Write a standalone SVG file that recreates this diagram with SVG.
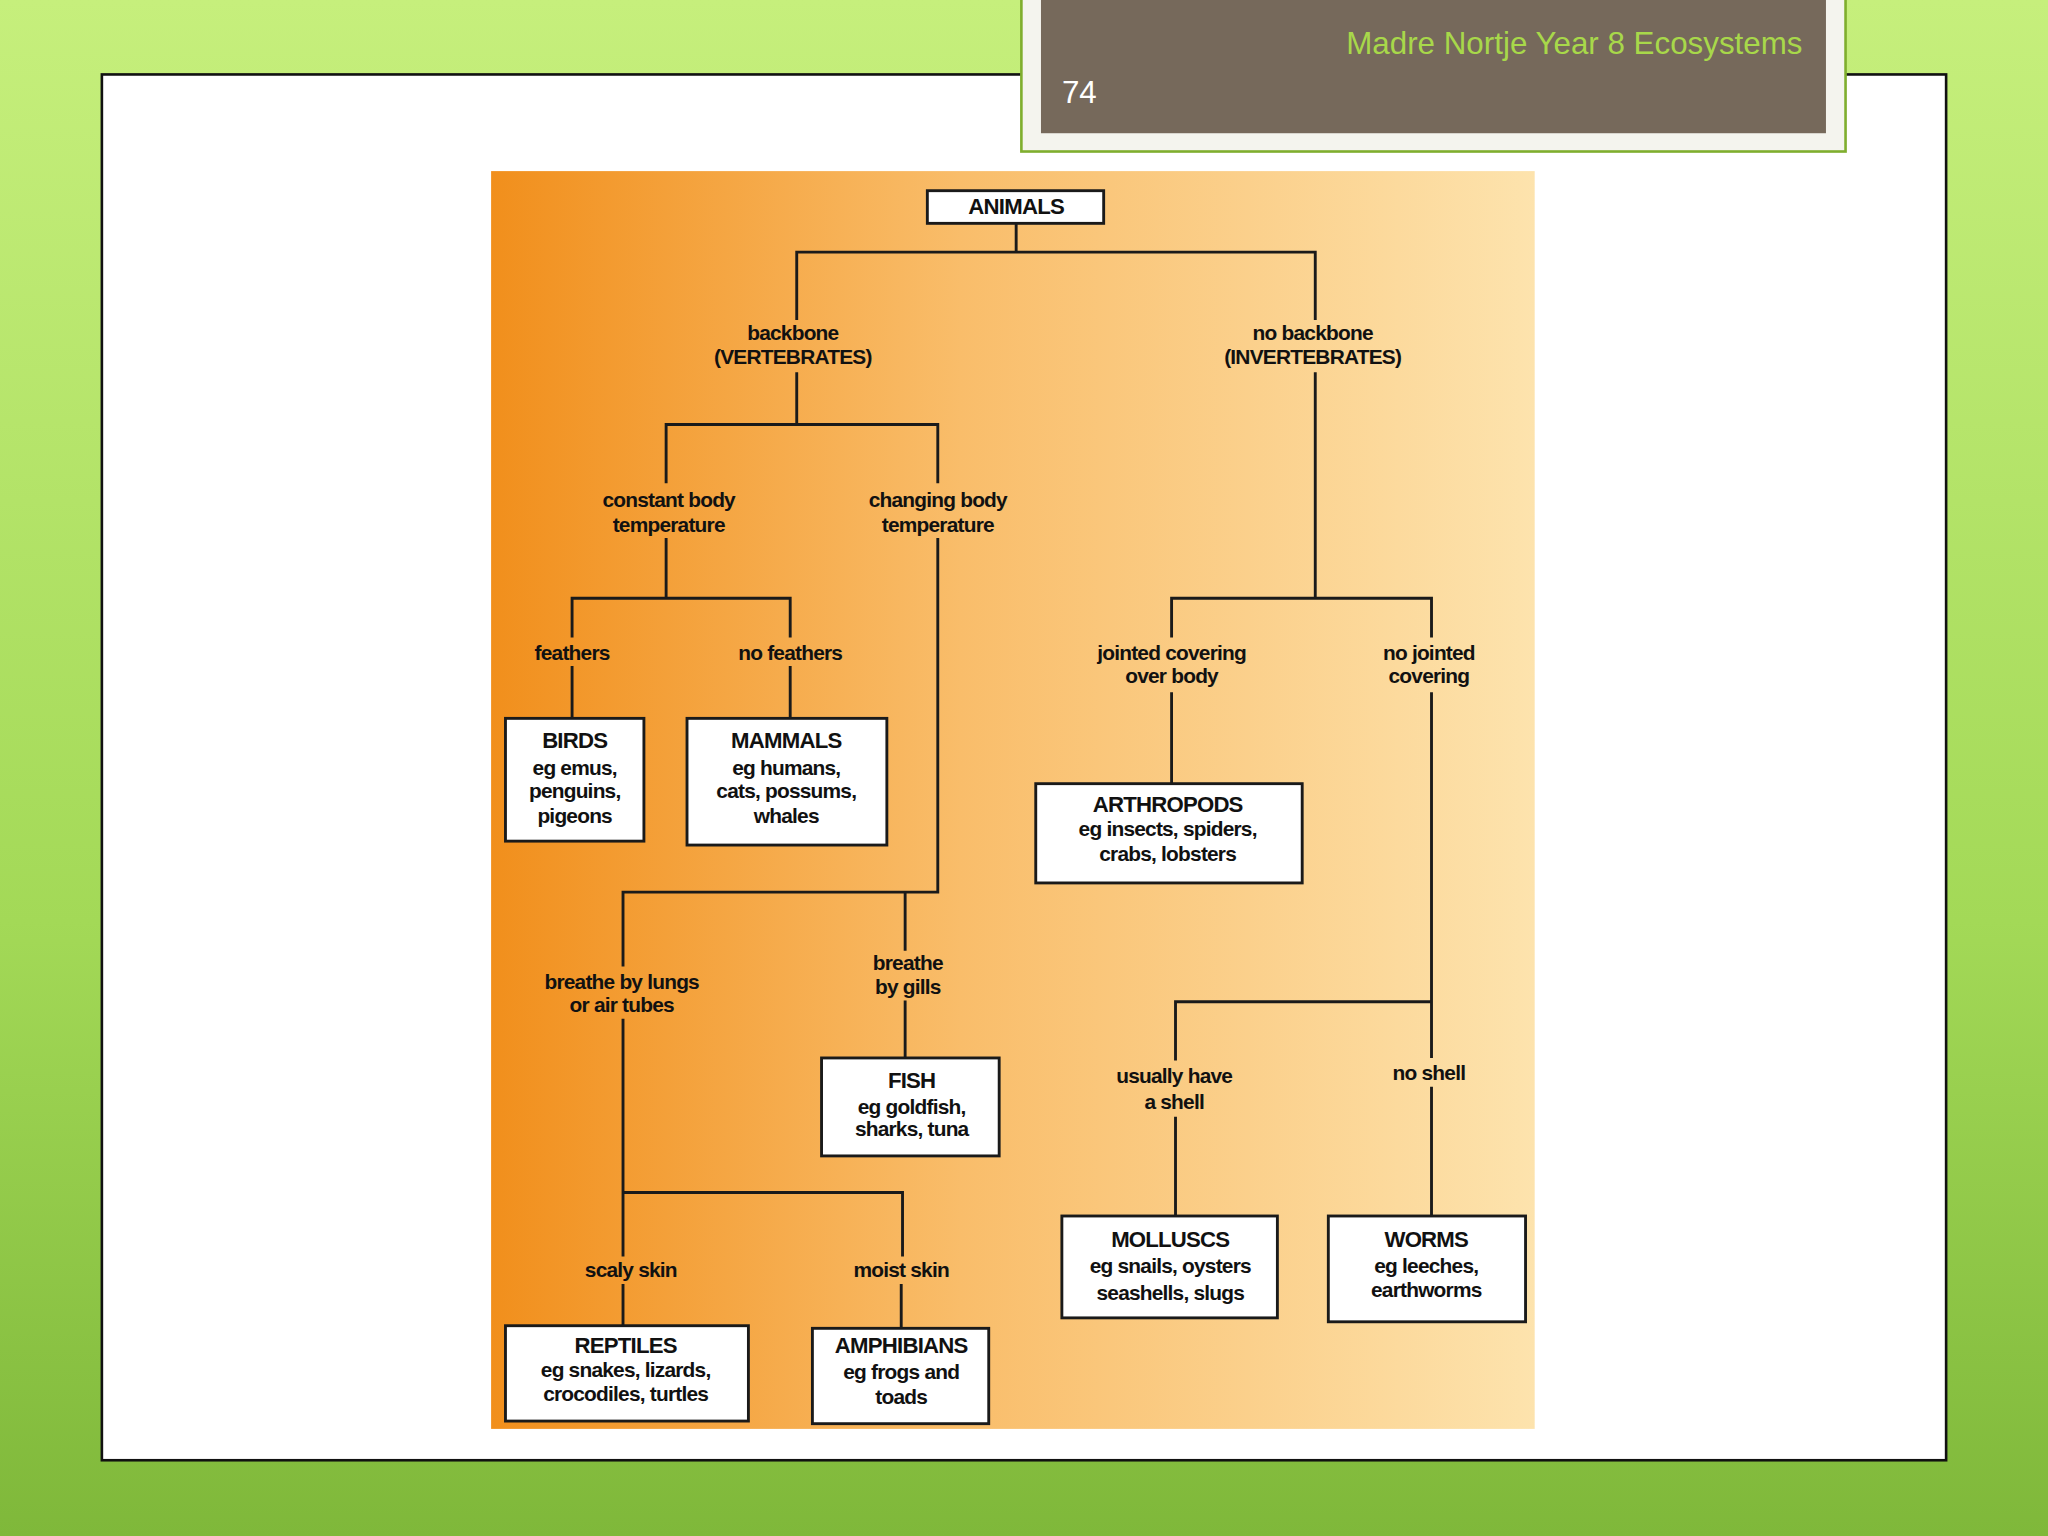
<svg xmlns="http://www.w3.org/2000/svg" width="2048" height="1536" viewBox="0 0 2048 1536">
<defs>
<linearGradient id="bg" x1="0" y1="0" x2="0" y2="1"><stop offset="0" stop-color="#c6ef7c"/><stop offset="0.6" stop-color="#a3d957"/><stop offset="1" stop-color="#7fb83a"/></linearGradient>
<linearGradient id="org" x1="0" y1="0" x2="1" y2="0"><stop offset="0" stop-color="#f18f1c"/><stop offset="0.45" stop-color="#f9bd6a"/><stop offset="1" stop-color="#fde3ad"/></linearGradient>
<style>
.l{stroke:#1a1a1a;stroke-width:2.2;fill:none}
.b{fill:#fff;stroke:#1a1a1a;stroke-width:2.2}
text.t{font-family:"Liberation Sans",Arial,sans-serif;font-weight:bold;font-size:16px;fill:#111;text-anchor:middle;letter-spacing:-0.6px}
text.h{font-size:17px}
</style>
</defs>
<rect width="2048" height="1536" fill="url(#bg)"/>
<g transform="scale(1.30612)">
<rect x="78" y="57" width="1412" height="1061" fill="#fff" stroke="#111" stroke-width="2"/>
<g id="title">
<rect x="782" y="-2" width="631" height="118" fill="#f4f4ee" stroke="#7fae2e" stroke-width="2"/>
<rect x="797" y="0" width="601" height="102" fill="#76695b"/>
<text x="1380" y="41" text-anchor="end" font-family="'Liberation Sans',Arial,sans-serif" font-size="24" fill="#a8d84a">Madre Nortje Year 8 Ecosystems</text>
<text x="813" y="79" font-family="'Liberation Sans',Arial,sans-serif" font-size="24" fill="#fff">74</text>
</g>
<rect x="376" y="131" width="799" height="963" fill="url(#org)"/>
<g id="connectors">
<path class="l" d="M778 171V193M610 245V193H1007V245"/>
<path class="l" d="M610 285V325M510 370V325H718V370"/>
<path class="l" d="M510 412V458M438 488V458H605V488"/>
<path class="l" d="M438 510V550M605 510V550"/>
<path class="l" d="M718 412V683H477V740M693 683V728"/>
<path class="l" d="M693 766V810"/>
<path class="l" d="M477 780V962M477 913H691V962"/>
<path class="l" d="M477 983V1015M690 983V1017"/>
<path class="l" d="M1007 285V458M897 488V458H1096V488"/>
<path class="l" d="M897 530V600"/>
<path class="l" d="M1096 530V810M900 812V767H1096"/>
<path class="l" d="M900 855V931M1096 832V931"/>
</g>
<g id="animals"><rect class="b" x="710" y="146" width="135" height="25"/><text class="t h" x="778" y="164">ANIMALS</text></g>
<g id="vert"><text class="t" x="607" y="260">backbone</text><text class="t" x="607" y="279">(VERTEBRATES)</text></g>
<g id="invert"><text class="t" x="1005" y="260">no backbone</text><text class="t" x="1005" y="279">(INVERTEBRATES)</text></g>
<g id="constant"><text class="t" x="512" y="388">constant body</text><text class="t" x="512" y="407">temperature</text></g>
<g id="changing"><text class="t" x="718" y="388">changing body</text><text class="t" x="718" y="407">temperature</text></g>
<g id="feathers"><text class="t" x="438" y="505">feathers</text></g>
<g id="nofeathers"><text class="t" x="605" y="505">no feathers</text></g>
<g id="birds"><rect class="b" x="387" y="550" width="106" height="94"/><text class="t h" x="440" y="573">BIRDS</text><text class="t" x="440" y="593">eg emus,</text><text class="t" x="440" y="611">penguins,</text><text class="t" x="440" y="630">pigeons</text></g>
<g id="mammals"><rect class="b" x="526" y="550" width="153" height="97"/><text class="t h" x="602" y="573">MAMMALS</text><text class="t" x="602" y="593">eg humans,</text><text class="t" x="602" y="611">cats, possums,</text><text class="t" x="602" y="630">whales</text></g>
<g id="lungs"><text class="t" x="476" y="757">breathe by lungs</text><text class="t" x="476" y="775">or air tubes</text></g>
<g id="gills"><text class="t" x="695" y="743">breathe</text><text class="t" x="695" y="761">by gills</text></g>
<g id="fish"><rect class="b" x="629" y="810" width="136" height="75"/><text class="t h" x="698" y="833">FISH</text><text class="t" x="698" y="853">eg goldfish,</text><text class="t" x="698" y="870">sharks, tuna</text></g>
<g id="scaly"><text class="t" x="483" y="978">scaly skin</text></g>
<g id="moist"><text class="t" x="690" y="978">moist skin</text></g>
<g id="reptiles"><rect class="b" x="387" y="1015" width="186" height="73"/><text class="t h" x="479" y="1036">REPTILES</text><text class="t" x="479" y="1054">eg snakes, lizards,</text><text class="t" x="479" y="1073">crocodiles, turtles</text></g>
<g id="amphibians"><rect class="b" x="622" y="1017" width="135" height="73"/><text class="t h" x="690" y="1036">AMPHIBIANS</text><text class="t" x="690" y="1056">eg frogs and</text><text class="t" x="690" y="1075">toads</text></g>
<g id="jointed"><text class="t" x="897" y="505">jointed covering</text><text class="t" x="897" y="523">over body</text></g>
<g id="nojointed"><text class="t" x="1094" y="505">no jointed</text><text class="t" x="1094" y="523">covering</text></g>
<g id="arthropods"><rect class="b" x="793" y="600" width="204" height="76"/><text class="t h" x="894" y="622">ARTHROPODS</text><text class="t" x="894" y="640">eg insects, spiders,</text><text class="t" x="894" y="659">crabs, lobsters</text></g>
<g id="shell"><text class="t" x="899" y="829">usually have</text><text class="t" x="899" y="849">a shell</text></g>
<g id="noshell"><text class="t" x="1094" y="827">no shell</text></g>
<g id="molluscs"><rect class="b" x="813" y="931" width="165" height="78"/><text class="t h" x="896" y="955">MOLLUSCS</text><text class="t" x="896" y="975">eg snails, oysters</text><text class="t" x="896" y="995">seashells, slugs</text></g>
<g id="worms"><rect class="b" x="1017" y="931" width="151" height="81"/><text class="t h" x="1092" y="955">WORMS</text><text class="t" x="1092" y="975">eg leeches,</text><text class="t" x="1092" y="993">earthworms</text></g>
</g>
</svg>
